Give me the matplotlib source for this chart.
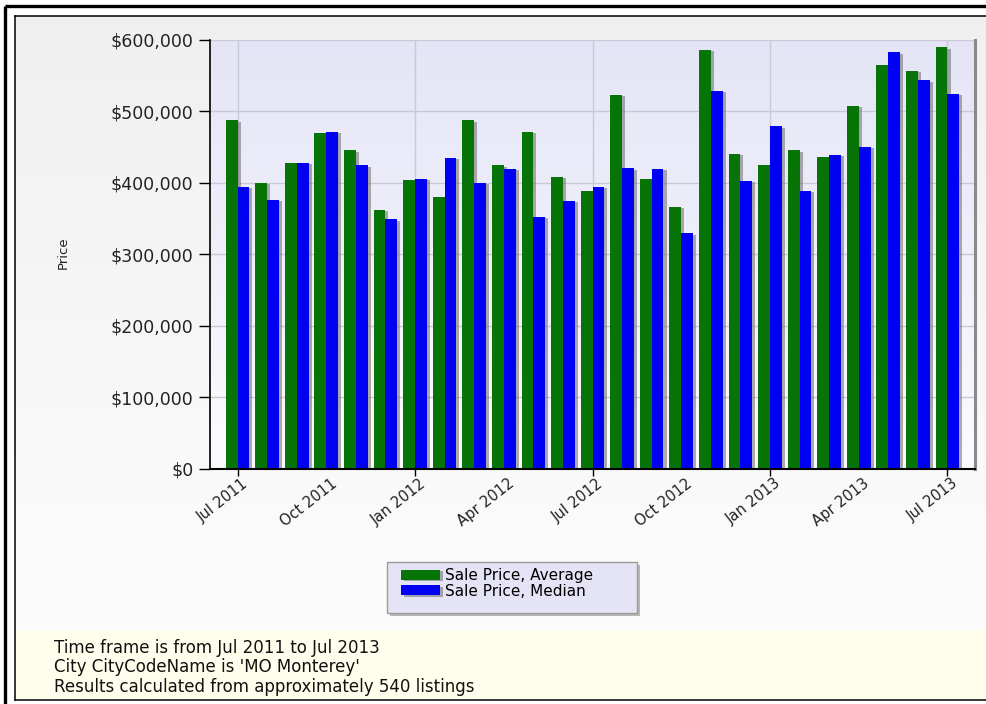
import numpy as np
import matplotlib
matplotlib.use('Agg')
import matplotlib.pyplot as plt
import matplotlib.patheffects as pe
from matplotlib.patches import Rectangle
from matplotlib.ticker import StrMethodFormatter
from matplotlib.transforms import ScaledTranslation

months = ['Jul 2011', 'Aug 2011', 'Sep 2011', 'Oct 2011', 'Nov 2011', 'Dec 2011',
          'Jan 2012', 'Feb 2012', 'Mar 2012', 'Apr 2012', 'May 2012', 'Jun 2012',
          'Jul 2012', 'Aug 2012', 'Sep 2012', 'Oct 2012', 'Nov 2012', 'Dec 2012',
          'Jan 2013', 'Feb 2013', 'Mar 2013', 'Apr 2013', 'May 2013', 'Jun 2013',
          'Jul 2013']
avg_price = [487000, 400000, 428000, 470000, 445000, 362000, 404000, 380000,
             487000, 424000, 471000, 408000, 389000, 523000, 405000, 366000,
             586000, 440000, 424000, 445000, 436000, 507000, 565000, 556000,
             589000]
median_price = [394000, 376000, 428000, 471000, 424000, 349000, 405000, 435000,
                400000, 419000, 352000, 375000, 394000, 420000, 419000, 329000,
                528000, 403000, 479000, 389000, 439000, 450000, 582000, 543000,
                524000]
series_names = ['Sale Price, Average', 'Sale Price, Median']
notes = ['Time frame is from Jul 2011 to Jul 2013',
         "City CityCodeName is 'MO Monterey'",
         'Results calculated from approximately 540 listings']

W, H = 987, 704
fig = plt.figure(figsize=(W / 100, H / 100), dpi=100)

# background panel, drawn in pixel coordinates
bg = fig.add_axes([0, 0, 1, 1], zorder=-10)
bg.axis('off')
img = np.ones((H, W, 3))
rows = np.arange(H)
shade = np.interp(rows, [16, 560, 630], [0.94, 0.985, 0.985])
img[16:630, 15:, :] = shade[16:630, None, None]
img[630:699, 15:, :] = (1.0, 0.993, 0.925)
bg.imshow(img, extent=(0, W, H, 0), aspect='auto', interpolation='nearest')
bg.set_xlim(0, W)
bg.set_ylim(H, 0)
bg.plot([5, 5], [H, 6], color='black', lw=2.4, solid_capstyle='butt')
bg.plot([5, W], [6, 6], color='black', lw=2.4, solid_capstyle='butt')
bg.plot([14.5, 14.5], [700, 15.5], color='black', lw=1.1)
bg.plot([14.5, W], [15.5, 15.5], color='black', lw=1.1)
bg.plot([14.5, W], [700, 700], color='black', lw=1.1)

# legend box
box = Rectangle((387, 562), 250, 51, facecolor='#e4e4f6', edgecolor='#9a9a9a', lw=1,
                path_effects=[pe.SimplePatchShadow(offset=(2, -2), shadow_rgbFace='#888888', alpha=0.6),
                              pe.Normal()])
bg.add_patch(box)

# main chart
ax = fig.add_axes([210 / W, 1 - 469 / H, (975 - 210) / W, (469 - 39.5) / H])
grad = np.linspace(0, 1, 256)[:, None]
top_c = np.array([0.895, 0.895, 0.965])
bot_c = np.array([0.985, 0.985, 1.0])
grad_img = top_c + (bot_c - top_c) * grad[..., None]
ax.imshow(grad_img, extent=(0, 1, 0, 1), transform=ax.transAxes, aspect='auto', zorder=0)
ax.patch.set_alpha(0)

x = np.arange(len(months))
shadow = [pe.SimplePatchShadow(offset=(2.2, -1), shadow_rgbFace='#6a6a6a', alpha=0.55), pe.Normal()]
b1 = ax.bar(x - 0.2, avg_price, width=0.4, color='#067406', zorder=2, path_effects=shadow,
            label=series_names[0])
b2 = ax.bar(x + 0.2, median_price, width=0.4, color='#0000f2', zorder=2, path_effects=shadow,
            label=series_names[1])

ax.set_xlim(-0.93, len(months) - 1 + 0.93)
ax.set_ylim(0, 600000)
ax.set_yticks(np.arange(0, 600001, 100000))
ax.yaxis.set_major_formatter(StrMethodFormatter('${x:,.0f}'))

major = x[::6]
minor = x[3::6]
ax.set_xticks(major, labels=[months[i] for i in major], rotation=38, ha='right',
              rotation_mode='anchor', fontsize=10.5, color='#222222')
ax.set_xticks(minor, labels=[months[i] for i in minor], minor=True, rotation=38, ha='right',
              rotation_mode='anchor', fontsize=10.5, color='#222222')
ax.tick_params(axis='x', which='major', length=5, width=1, pad=0)
ax.tick_params(axis='x', which='minor', length=0, pad=5)
ax.tick_params(axis='y', length=8, width=1, pad=4, labelsize=12.5, labelcolor='#222222')
shift = ScaledTranslation(4 / 100, 0, fig.dpi_scale_trans)
for lab in ax.get_xticklabels(which='both'):
    lab.set_transform(lab.get_transform() + shift)

ax.set_axisbelow(True)
ax.yaxis.grid(True, color='#c9c9d6', lw=1)
ax.xaxis.grid(True, which='major', color='#c9c9d6', lw=1)

ax.spines['top'].set_visible(False)
ax.spines['right'].set_color('#8a8a8a')
ax.spines['right'].set_linewidth(2.2)
ax.spines['left'].set_linewidth(1.2)
ax.spines['bottom'].set_linewidth(1.5)

fig.text(63 / W, 1 - 253 / H, 'Price', rotation=90, fontsize=9.5, ha='center', va='center',
         color='#222222')

fig.legend(handles=[b1, b2], labels=series_names, loc='upper left',
           bbox_to_anchor=(401 / W, 1 - 568 / H), frameon=False, borderpad=0,
           borderaxespad=0, handlelength=2.55, handleheight=0.65, handletextpad=0.35,
           labelspacing=0.05, fontsize=11)

for txt, yy in zip(notes, [648, 667.5, 687]):
    fig.text(54 / W, 1 - yy / H, txt, fontsize=12, ha='left', va='center', color='#111111')

fig.savefig('out.png', dpi=100)
